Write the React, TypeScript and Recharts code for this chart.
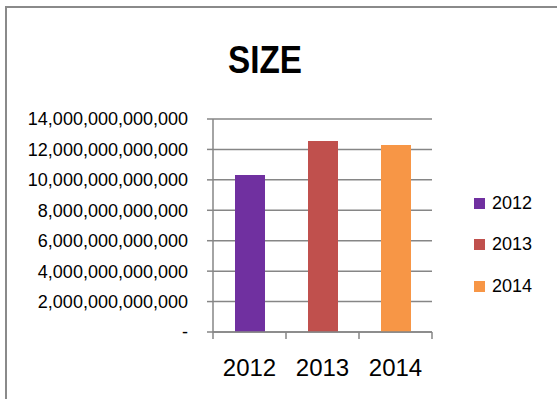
import { Bar, BarChart, CartesianGrid, Cell, XAxis, YAxis } from 'recharts'

const years = ['2012', '2013', '2014']
const sizes = [10.32e12, 12.55e12, 12.29e12]
const barColors = ['#7030A0', '#C0504D', '#F79646']
const yTicks = [0, 2e12, 4e12, 6e12, 8e12, 10e12, 12e12, 14e12]

const chartData = years.map((year, i) => ({ year, size: sizes[i] }))

const FONT = '"Liberation Sans", Arial, sans-serif'
const AXIS_GRAY = '#868686'

const formatTick = (v: number) => (v === 0 ? '-' : v.toLocaleString('en-US'))

// category labels + boundary tick marks (Excel style, ticks between categories)
function YearTick(props: any) {
  const { x, y, payload, index } = props
  const half = payload?.offset ?? 36.5
  return (
    <g>
      <line x1={x - half} x2={x - half} y1={y} y2={y + 7} stroke={AXIS_GRAY} strokeWidth={1.5} />
      {index === years.length - 1 && (
        <line x1={x + half} x2={x + half} y1={y} y2={y + 7} stroke={AXIS_GRAY} strokeWidth={1.5} />
      )}
      <text x={x} y={y + 44} textAnchor="middle" fill="#000" fontSize={24} fontFamily={FONT}>
        {payload.value}
      </text>
    </g>
  )
}

export default function App() {
  return (
    <div
      style={{
        position: 'absolute',
        left: 0,
        top: 0,
        width: 557,
        height: 399,
        background: '#fff',
        overflow: 'hidden',
        fontFamily: FONT,
      }}
    >
      {/* chart frame */}
      <div
        style={{
          position: 'absolute',
          left: 5,
          top: 6,
          width: 600,
          height: 391,
          borderLeft: '2px solid #8a8a8a',
          borderTop: '2px solid #8a8a8a',
          borderBottom: '1px solid #dcdcdc',
        }}
      />
      <svg style={{ position: 'absolute', left: 0, top: 0 }} width={557} height={100}>
        <text
          x={265}
          y={73}
          textAnchor="middle"
          fontSize={39}
          fontWeight="bold"
          fontFamily={FONT}
          textLength={74}
          lengthAdjust="spacingAndGlyphs"
        >
          SIZE
        </text>
      </svg>
      <div style={{ position: 'absolute', left: 0, top: 0 }}>
        <BarChart
          width={557}
          height={399}
          data={chartData}
          margin={{ top: 119, right: 125, bottom: 17, left: 0 }}
        >
          <CartesianGrid vertical={false} stroke={AXIS_GRAY} strokeWidth={1.5} />
          <XAxis
            dataKey="year"
            height={50}
            tickLine={false}
            tickSize={0}
            tickMargin={0}
            axisLine={{ stroke: AXIS_GRAY, strokeWidth: 1.5 }}
            tick={<YearTick />}
            interval={0}
          />
          <YAxis
            width={213}
            domain={[0, 14e12]}
            ticks={yTicks}
            tickFormatter={formatTick}
            tickSize={6}
            tickMargin={19}
            axisLine={{ stroke: AXIS_GRAY, strokeWidth: 1.5 }}
            tickLine={{ stroke: AXIS_GRAY, strokeWidth: 1.5 }}
            tick={{ fill: '#000', fontSize: 18, fontFamily: FONT }}
            interval={0}
          />
          <Bar dataKey="size" barSize={30} isAnimationActive={false}>
            {chartData.map((d, i) => (
              <Cell key={d.year} fill={barColors[i]} />
            ))}
          </Bar>
        </BarChart>
      </div>
      {/* legend */}
      {years.map((year, i) => (
        <div
          key={year}
          style={{
            position: 'absolute',
            left: 474,
            top: 192 + i * 41.5,
            height: 22,
            display: 'flex',
            alignItems: 'center',
            fontSize: 18,
            color: '#000',
          }}
        >
          <span
            style={{ width: 11, height: 11, background: barColors[i], marginRight: 7, display: 'inline-block' }}
          />
          {year}
        </div>
      ))}
    </div>
  )
}
